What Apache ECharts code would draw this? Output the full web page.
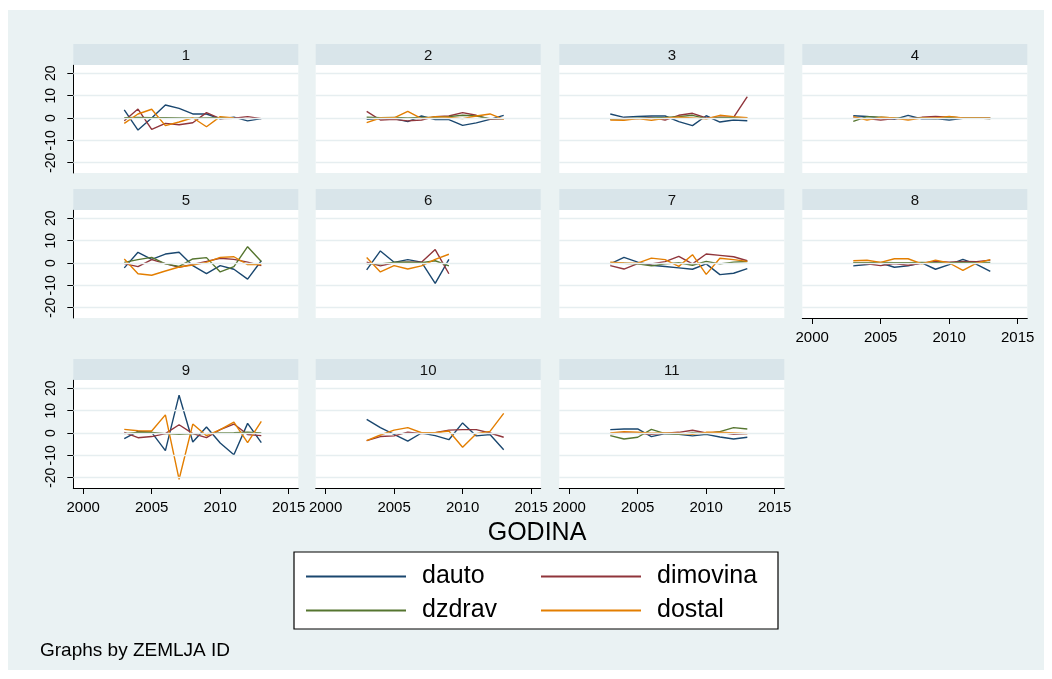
<!DOCTYPE html>
<html><head><meta charset="utf-8">
<script src="https://cdn.jsdelivr.net/npm/echarts@6.0.0/dist/echarts.min.js"></script>
<style>
html,body{margin:0;padding:0;background:#fff;}
#bg{position:absolute;left:8px;top:10px;width:1036px;height:660px;background:#eaf2f3;}
#chart{position:absolute;left:0;top:0;width:1052px;height:679px;}
</style></head>
<body><div id="bg"></div><div id="chart"></div>
<script>
const years = [2003,2004,2005,2006,2007,2008,2009,2010,2011,2012,2013];
const panelLabels = ['1','2','3','4','5','6','7','8','9','10','11'];
const seriesNames = ['dauto','dimovina','dzdrav','dostal'];
const xTicks = [2000,2005,2010,2015];
const yTicks = [-20,-10,0,10,20];
const xTitle = 'GODINA';
const note = 'Graphs by ZEMLJA ID';

const dauto = [
  [3.6,-5.4,0,5.8,4.3,1.8,1.8,-0.4,0.4,-1.3,-0.3],
  [-0.6,-0.3,-0.3,-1.6,0.9,-0.7,-0.7,-3.3,-2.2,-0.6,1.2],
  [1.8,0.3,0.7,0.9,0.9,-1.6,-3.4,1.0,-1.8,-0.9,-1.2],
  [1.0,0.7,0,-0.6,1.2,-0.4,-0.3,-0.9,-0.1,0,0],
  [-2.2,4.8,1.6,4.0,4.8,-1.2,-4.8,-1.2,-2.8,-7.2,1.0],
  [-3.1,5.4,0.3,1.5,0.4,-9.1,1.6],
  [-0.4,2.5,0.4,-1.0,-1.6,-2.2,-2.8,-0.4,-5.2,-4.6,-2.5],
  [-1.3,-0.7,0,-1.9,-1.3,0.1,-2.8,-0.7,1.6,-0.6,-3.7],
  [-2.5,0.7,0.3,-7.9,16.9,-4.0,2.7,-4.5,-9.7,4.3,-4.3],
  [6.1,2.4,-0.6,-3.6,0,-1.2,-3.0,4.5,-1.3,-0.7,-7.5],
  [1.5,1.8,1.8,-1.6,-0.3,-0.6,-1.3,-0.6,-1.8,-2.7,-1.9]
];
const dimovina = [
  [-1.2,4.0,-5.1,-2.4,-3.0,-2.1,2.4,-0.3,-0.1,0.6,-0.3],
  [3.0,-0.9,-0.6,-1.3,-0.9,0.6,0.9,2.4,1.2,-0.6,-0.4],
  [-0.6,-0.2,-0.3,0.3,-0.9,1.2,2.1,0,0.3,0.3,9.6],
  [0,-0.3,-0.9,-0.3,-0.3,0.3,0.7,0.3,0,0,-0.3],
  [-0.3,-1.6,1.5,-0.3,-1.9,-0.6,0.7,2.1,1.6,0.4,-1.2],
  [0.4,-1.3,0.1,0.4,0.3,6.0,-4.8],
  [-1.2,-2.7,-0.3,-0.4,0.6,3.0,-0.4,4.0,3.4,2.8,1.0],
  [-0.1,-0.4,-1.2,-0.3,-1.0,-0.1,0.7,0.4,0.7,0.6,1.3],
  [0.3,-2.1,-1.6,-0.3,3.7,-0.3,-2.1,1.5,4.0,-0.7,-1.2],
  [-3.4,-1.6,-1.3,0.4,-0.3,0.1,1.3,1.5,1.5,0,-1.9],
  [-0.3,0,-0.1,-0.6,-0.1,0.3,1.2,0,0.3,-0.6,-0.3]
];
const dzdrav = [
  [0.1,0.2,0.1,0.1,0,-0.1,0,0.1,0],
  [0.3,0.1,0.2,0,0.2,0.3,0.6,1.2,0.9,-0.3,-0.3],
  [-0.6,-0.3,-0.1,0,0.2,0.6,1.2,-0.3,0.1,0.1,0.1],
  [-1.5,0.6,0.3,0,-0.3,0,-0.3,0.3,0,0,-0.3],
  [0.3,1.5,2.5,-0.4,-1.5,1.8,2.4,-4.0,-1.6,7.3,0.7],
  [-0.3,-0.4,0.3,0.4,0.1,1.0,-1.3],
  [-0.1,-0.1,-0.4,-1.3,-0.4,0.1,-1.0,0.7,-0.4,0.4,0.7],
  [0.1,0.1,0.2,0.1,0.1,0.2,0.1,0.1,0.2,0.1,0.2],
  [-0.3,0.3,0.3,-0.3,-0.6,-0.3,-0.3,0,0.1,0.3,0],
  [],
  [-1.2,-2.7,-1.9,1.6,-0.3,-0.6,0,-0.3,0.6,2.4,1.8]
];
const dostal = [
  [-2.4,1.8,3.9,-3.4,-1.8,0.1,-3.9,0.6,0],
  [-2.1,0,0.1,3.0,-0.3,0.6,0.3,-0.3,0.9,1.8,-0.6],
  [-0.9,-1.0,-0.3,-1.0,-0.1,0.3,0,-0.4,1.2,0.6,0.1],
  [0.6,-0.9,0.3,0,-0.9,0,0,0.7,0,0,0],
  [1.8,-4.8,-5.5,-3.6,-1.8,-0.9,0.3,2.5,2.8,-0.7,-0.7],
  [2.5,-4.0,-1.2,-2.7,-1.3,1.6,3.9],
  [0.4,0,-0.1,2.2,1.5,-1.5,3.7,-5.1,2.1,1.5,0.7],
  [1.0,1.2,0.3,1.9,1.9,-0.4,1.3,0,-3.3,-0.1,1.5],
  [1.6,1.0,0.9,8.1,-20.7,4.0,-1.2,1.5,4.9,-4.3,5.2],
  [-3.4,-0.9,1.3,2.4,0.1,0.1,0.9,-6.4,-0.3,0.7,8.8],
  [0,0.6,0.3,-0.1,0,-0.1,-0.6,0.3,0.3,0,-0.3]
];

const seriesData = { dauto, dimovina, dzdrav, dostal };
const colors = { dauto:'#1a476f', dimovina:'#90353b', dzdrav:'#55752f', dostal:'#e37e00' };
const FONT = '"Liberation Sans", Arial, sans-serif';

const colLeft = [73.3, 315.7, 559.3, 802.3];
const rowTop = [65, 210, 380];
const W = 225, H = 108, HEAD = 21;

const grid = [], xAxis = [], yAxis = [], series = [], graphic = [];

panelLabels.forEach((lab, p) => {
  const r = Math.floor(p / 4), c = p % 4;
  const showX = p >= 7;
  const showY = c === 0;
  grid.push({ left: colLeft[c], top: rowTop[r], width: W, height: H,
    show: true, backgroundColor: '#ffffff', borderWidth: 0 });
  xAxis.push({ type: 'value', gridIndex: p, min: 1999.28, max: 2015.7,
    axisLine: { show: showX, onZero: false, lineStyle: { color: '#000', width: 1 } },
    axisTick: { show: showX, customValues: xTicks, length: 6, lineStyle: { color: '#000' } },
    axisLabel: { show: showX, customValues: xTicks, fontSize: 15, color: '#000', margin: 12,
      fontFamily: FONT, formatter: v => String(v) },
    splitLine: { show: false } });
  yAxis.push({ type: 'value', gridIndex: p, min: -24.6, max: 23.7,
    axisLine: { show: showY, onZero: false, lineStyle: { color: '#000', width: 1 } },
    axisTick: { show: showY, customValues: yTicks, length: 6, lineStyle: { color: '#000' } },
    axisLabel: { show: showY, customValues: yTicks, rotate: 90, fontSize: 14, color: '#000', margin: 15,
      fontFamily: FONT, formatter: v => String(v) },
    splitLine: { show: false } });
  // gridlines
  series.push({ type: 'line', xAxisIndex: p, yAxisIndex: p, data: [], z: 1, silent: true,
    markLine: { silent: true, symbol: ['none','none'], animation: false,
      label: { show: false },
      lineStyle: { color: '#e6eef0', width: 1.3, type: 'solid' },
      data: yTicks.map(v => ({ yAxis: v })) } });
  seriesNames.forEach(name => {
    const arr = seriesData[name][p];
    series.push({ type: 'line', name, xAxisIndex: p, yAxisIndex: p, z: 2,
      symbol: 'none', showSymbol: false, animation: false,
      color: colors[name],
      lineStyle: { color: colors[name], width: 1.4 },
      data: arr.map((v, i) => [years[i], v]) });
  });
  graphic.push({ type: 'rect', z: 1,
    shape: { x: colLeft[c], y: rowTop[r] - HEAD, width: W, height: HEAD },
    style: { fill: '#d9e5ea' } });
  graphic.push({ type: 'text', z: 2, x: colLeft[c] + W / 2, y: rowTop[r] - HEAD / 2 + 1,
    style: { text: lab, fontSize: 15, fontFamily: FONT, fill: '#111',
      align: 'center', verticalAlign: 'middle', textAlign: 'center', textVerticalAlign: 'middle' } });
});

graphic.push({ type: 'text', z: 2, x: 537, y: 533,
  style: { text: xTitle, fontSize: 25, fontFamily: FONT, fill: '#000',
    align: 'center', verticalAlign: 'middle', textAlign: 'center', textVerticalAlign: 'middle' } });
graphic.push({ type: 'rect', z: 0,
  shape: { x: 294, y: 552, width: 484, height: 77 },
  style: { fill: '#ffffff', stroke: '#000', lineWidth: 1.2 } });
graphic.push({ type: 'text', z: 2, x: 40, y: 651,
  style: { text: note, fontSize: 19, fontFamily: FONT, fill: '#000',
    align: 'left', verticalAlign: 'middle', textAlign: 'left', textVerticalAlign: 'middle' } });

const legendCommon = { orient: 'vertical', icon: 'rect', itemWidth: 100, itemHeight: 2,
  itemGap: 9, selectedMode: false, z: 5, padding: 0,
  textStyle: { fontSize: 25, color: '#000', fontFamily: FONT, lineHeight: 25, padding: [0,0,0,11] } };

const option = {
  animation: false,
  backgroundColor: 'transparent',
  textStyle: { fontFamily: FONT },
  grid, xAxis, yAxis, series, graphic,
  legend: [
    Object.assign({ left: 306, top: 564, data: ['dauto','dzdrav'] }, legendCommon),
    Object.assign({ left: 541, top: 564, data: ['dimovina','dostal'] }, legendCommon)
  ]
};
const chart = echarts.init(document.getElementById('chart'));
chart.setOption(option);
</script></body></html>
